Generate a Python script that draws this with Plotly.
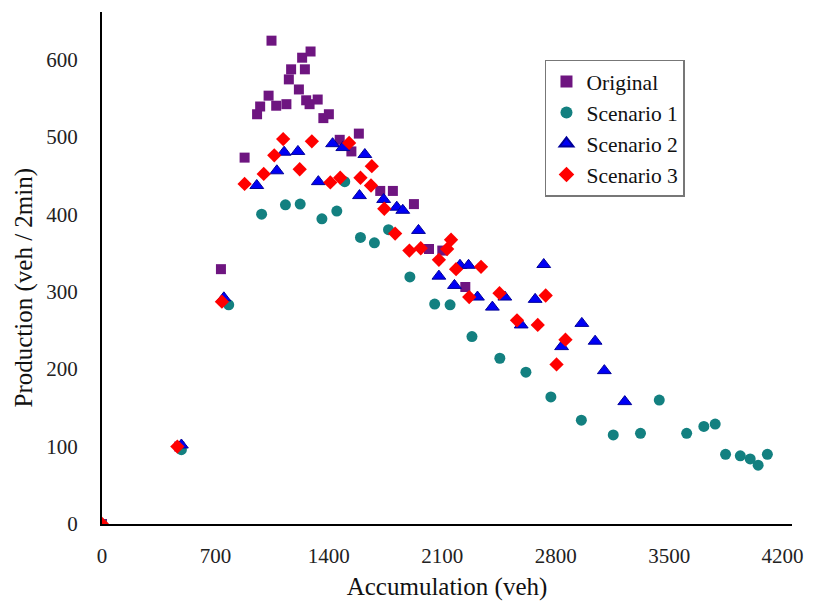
import plotly.graph_objects as go

# ---- data ----
orig_x = [0, 477, 734, 880, 957, 976, 1028, 1046, 1075, 1138, 1153, 1167, 1215, 1235, 1252, 1260,
          1281, 1287, 1331, 1366, 1400, 1467, 1539, 1585, 1717, 1795, 1925, 2018, 2100, 2242]
orig_y = [0, 100, 329, 473, 529, 539, 553, 624, 540, 542, 574, 587, 561, 602, 587, 547,
          542, 610, 548, 524, 529, 496, 481, 504, 430, 430, 413, 355, 353, 306]

s1_x = [0, 490, 782, 985, 1132, 1223, 1357, 1449, 1498, 1595, 1681, 1768, 1900, 2053, 2148, 2283,
        2455, 2616, 2770, 2958, 3155, 3323, 3439, 3608, 3714, 3784, 3848, 3939, 4000, 4049, 4106]
s1_y = [0, 96, 283, 400, 412, 413, 394, 404, 442, 370, 363, 380, 319, 284, 283, 242,
        214, 196, 164, 134, 115, 117, 160, 117, 126, 129, 90, 88, 84, 76, 90]

s2_x = [0, 490, 752, 955, 1079, 1124, 1209, 1335, 1423, 1486, 1589, 1622, 1738, 1819, 1856, 1953,
        2079, 2175, 2209, 2262, 2317, 2409, 2486, 2587, 2673, 2726, 2836, 2961, 3043, 3100, 3226]
s2_y = [0, 102, 292, 437, 456, 480, 481, 442, 491, 486, 424, 477, 419, 409, 405, 379,
        320, 308, 334, 334, 293, 280, 293, 257, 290, 335, 229, 259, 236, 198, 158]

s3_x = [0, 465, 740, 880, 998, 1063, 1118, 1220, 1295, 1409, 1470, 1525, 1595, 1660, 1665, 1742,
        1809, 1897, 1967, 2079, 2130, 2154, 2185, 2266, 2339, 2453, 2561, 2689, 2738, 2805, 2860]
s3_y = [0, 100, 287, 439, 452, 476, 497, 458, 494, 441, 447, 492, 447, 437, 462, 407,
        375, 353, 356, 341, 355, 367, 329, 293, 332, 298, 263, 257, 295, 206, 238]

x_ticks = [0, 700, 1400, 2100, 2800, 3500, 4200]
y_ticks = [0, 100, 200, 300, 400, 500, 600]
names = ["Original", "Scenario 1", "Scenario 2", "Scenario 3"]

FONT = "Liberation Serif"

fig = go.Figure()
fig.add_trace(go.Scatter(x=orig_x, y=orig_y, mode="markers", name=names[0],
                         marker=dict(symbol="square", size=10, color="#6E1580",
                                     line=dict(width=0))))
fig.add_trace(go.Scatter(x=s1_x, y=s1_y, mode="markers", name=names[1],
                         marker=dict(symbol="circle", size=11, color="#138080",
                                     line=dict(width=0))))
fig.add_trace(go.Scatter(x=s2_x, y=s2_y, mode="markers", name=names[2],
                         marker=dict(symbol="triangle-up", size=12, color="#0000F5",
                                     line=dict(width=1, color="#00009A"))))
fig.add_trace(go.Scatter(x=s3_x, y=s3_y, mode="markers", name=names[3],
                         marker=dict(symbol="diamond", size=11, color="#FF0000",
                                     line=dict(width=0))))

fig.update_layout(
    width=815, height=608,
    margin=dict(l=102, r=15, t=12, b=76),
    paper_bgcolor="white", plot_bgcolor="white",
    font=dict(family=FONT, color="#222222", size=21),
    showlegend=True,
    legend=dict(x=0.642, y=0.907, xanchor="left", yanchor="top",
                bordercolor="#777777", borderwidth=1.5, bgcolor="white",
                font=dict(family=FONT, size=21.5, color="#111111"),
                tracegroupgap=0, itemsizing="constant"),
    xaxis=dict(range=[0, 4258], tickvals=x_ticks, ticktext=[str(v) for v in x_ticks],
               showline=True, linecolor="black", linewidth=2,
               ticks="outside", ticklen=12, tickcolor="rgba(0,0,0,0)",
               showgrid=False, zeroline=False,
               tickfont=dict(family=FONT, size=21, color="#222222"),
               title=dict(text="Accumulation (veh)", standoff=10,
                          font=dict(family=FONT, size=25, color="#111111"))),
    yaxis=dict(range=[0, 661], tickvals=y_ticks, ticktext=[str(v) for v in y_ticks],
               showline=True, linecolor="black", linewidth=2,
               ticks="outside", ticklen=18, tickcolor="rgba(0,0,0,0)",
               showgrid=False, zeroline=False,
               tickfont=dict(family=FONT, size=21, color="#222222")),
    annotations=[dict(text="Production (veh / 2min)", textangle=-90,
                      xref="paper", yref="paper", x=-0.113, y=0.462,
                      xanchor="center", yanchor="middle", showarrow=False,
                      font=dict(family=FONT, size=25, color="#111111"))],
)

fig.write_html("out.html")
